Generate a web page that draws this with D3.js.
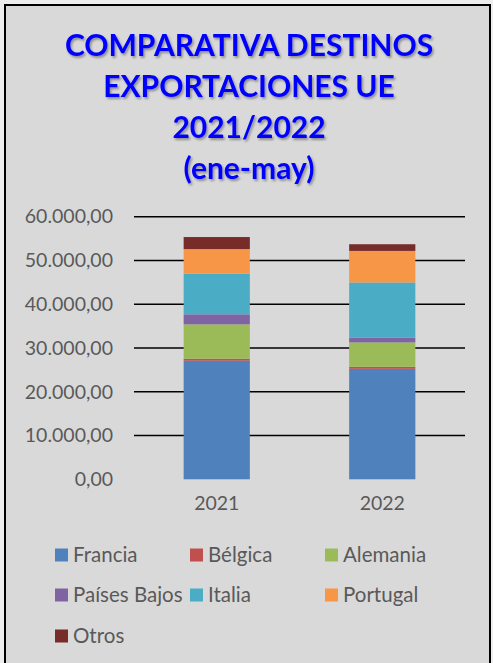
<!DOCTYPE html>
<html>
<head>
<meta charset="utf-8">
<script src="https://cdn.jsdelivr.net/npm/d3@7"></script>
<style>
  body { margin: 0; background: #eeeeee; }
  svg { display: block; }
</style>
</head>
<body>
<div id="chart"></div>
<script>
// data (ene-may, values)
const years = ['2021', '2022'];
const countries = ['Francia', 'Bélgica', 'Alemania', 'Países Bajos', 'Italia', 'Portugal', 'Otros'];
const francia = [27100, 25250];
const belgica = [450, 460];
const alemania = [7850, 5570];
const paisesBajos = [2300, 1050];
const italia = [9250, 12650];
const portugal = [5650, 7200];
const otros = [2750, 1530];
const yTicks = [0, 10000, 20000, 30000, 40000, 50000, 60000];
const titleLines = ['COMPARATIVA DESTINOS', 'EXPORTACIONES UE', '2021/2022', '(ene-may)'];

const colors = ['#4f81bd', '#c0504d', '#9bbb59', '#8064a2', '#4bacc6', '#f79646', '#772c2a'];
const seriesValues = [francia, belgica, alemania, paisesBajos, italia, portugal, otros];

const W = 493, H = 663;
const font = 'Lato, "Open Sans", sans-serif';

const rows = years.map((y, i) => {
  const r = { year: y };
  countries.forEach((c, k) => { r[c] = seriesValues[k][i]; });
  return r;
});

const svg = d3.select('#chart').append('svg')
  .attr('width', W).attr('height', H);

const defs = svg.append('defs');
const shadow = defs.append('filter').attr('id', 'shadow')
  .attr('x', '-10%').attr('y', '-20%').attr('width', '120%').attr('height', '150%');
shadow.append('feDropShadow')
  .attr('dx', 1.5).attr('dy', 2).attr('stdDeviation', 1.2)
  .attr('flood-color', '#000').attr('flood-opacity', 0.35);

// chart area frame
svg.append('rect')
  .attr('x', 5).attr('y', 5)
  .attr('width', 485).attr('height', 670)
  .attr('fill', '#d9d9d9')
  .attr('stroke', '#000').attr('stroke-width', 2);

// title
svg.append('g').attr('filter', 'url(#shadow)')
  .selectAll('text').data(titleLines).enter()
  .append('text')
  .attr('x', 249)
  .attr('y', (d, i) => 56 + i * 41)
  .attr('text-anchor', 'middle')
  .attr('font-family', font)
  .attr('font-weight', 'bold')
  .attr('font-size', 30)
  .attr('fill', '#0000ff')
  .text(d => d);

const x = d3.scaleBand().domain(years).range([134, 465])
  .paddingInner(0.6).paddingOuter(0.3);
const y = d3.scaleLinear().domain([0, 60000]).range([479.3, 216.7]);

// gridlines (no line at zero)
svg.append('g').selectAll('line').data(yTicks.filter(t => t > 0)).enter()
  .append('line')
  .attr('x1', 134).attr('x2', 465)
  .attr('y1', d => y(d)).attr('y2', d => y(d))
  .attr('stroke', '#000').attr('stroke-width', 1.6);

// y axis labels
const fmt = d3.formatLocale({ decimal: ',', thousands: '.', grouping: [3], currency: ['', '€'] }).format(',.2f');
const yAxis = d3.axisLeft(y).tickValues(yTicks).tickFormat(fmt).tickSize(0).tickPadding(0);
const yg = svg.append('g').attr('transform', 'translate(113,0)').call(yAxis);
yg.select('.domain').remove();
yg.selectAll('text')
  .attr('font-family', font).attr('font-size', 19.5)
  .attr('fill', '#595959');

// stacked bars
const stack = d3.stack().keys(countries)(rows);
svg.append('g').selectAll('g').data(stack).enter()
  .append('g').attr('fill', (d, i) => colors[i])
  .selectAll('rect').data(d => d).enter()
  .append('rect')
  .attr('x', d => x(d.data.year))
  .attr('width', x.bandwidth())
  .attr('y', d => y(d[1]))
  .attr('height', d => y(d[0]) - y(d[1]));

// x axis labels
const xAxis = d3.axisBottom(x).tickSize(0).tickPadding(0);
const xg = svg.append('g').attr('transform', 'translate(0,494)').call(xAxis);
xg.select('.domain').remove();
xg.selectAll('text')
  .attr('font-family', font).attr('font-size', 19.5)
  .attr('fill', '#595959').attr('dy', '0.8em');

// legend
const legCols = [55, 190, 325];
const legRows = [555, 595, 636];
const leg = svg.append('g').selectAll('g').data(countries).enter()
  .append('g')
  .attr('transform', (d, i) => `translate(${legCols[i % 3]},${legRows[Math.floor(i / 3)]})`);
leg.append('rect')
  .attr('x', 0).attr('y', -6.5).attr('width', 13).attr('height', 13)
  .attr('fill', (d, i) => colors[i]);
leg.append('text')
  .attr('x', 18).attr('y', 0).attr('dy', '0.35em')
  .attr('font-family', font).attr('font-size', 20.5)
  .attr('fill', '#595959')
  .text(d => d);
</script>
</body>
</html>
